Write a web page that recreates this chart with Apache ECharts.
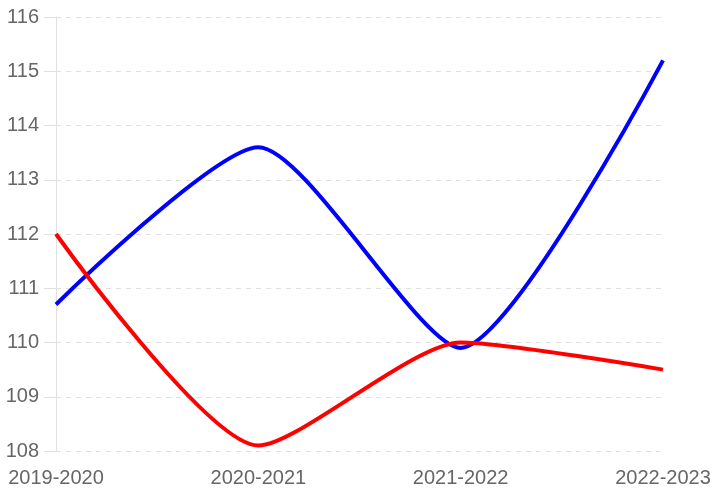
<!DOCTYPE html>
<html><head><meta charset="utf-8">
<script src="https://cdn.jsdelivr.net/npm/echarts@6/dist/echarts.min.js"></script>
<style>html,body{margin:0;padding:0;background:#fff}#c{width:716px;height:498px}</style>
</head><body><div id="c"></div>
<script>
const categories = ["2019-2020", "2020-2021", "2021-2022", "2022-2023"];
const blueValues = [110.7, 113.6, 109.9, 115.2];
const redValues = [112.0, 108.1, 110.0, 109.5];
const yMin = 108, yMax = 116, yStep = 1;

const chart = echarts.init(document.getElementById('c'));
const font = 'Arial, "Liberation Sans", sans-serif';
chart.setOption({
  animation: false,
  grid: {left: 56, right: 53, top: 17, bottom: 47},
  xAxis: {
    type: 'category', data: categories, boundaryGap: false,
    axisLine: {show: false},
    axisTick: {show: false},
    axisLabel: {color: '#666', fontSize: 20, fontFamily: font, margin: 17},
    splitLine: {show: false}
  },
  yAxis: {
    type: 'value', min: yMin, max: yMax, interval: yStep,
    axisLine: {show: true, lineStyle: {color: '#e0e0e0', width: 1}},
    axisTick: {show: true, length: 12, lineStyle: {color: '#e0e0e0'}},
    axisLabel: {color: '#666', fontSize: 20, fontFamily: font, margin: 17},
    splitLine: {show: true, lineStyle: {color: '#e0e0e0', type: [5, 5], width: 1}}
  },
  series: [
    {type: 'line', data: blueValues, smooth: 0.22, showSymbol: false,
     lineStyle: {color: '#0000ff', width: 4}, itemStyle: {color: '#0000ff'}},
    {type: 'line', data: redValues, smooth: 0.22, showSymbol: false,
     lineStyle: {color: '#ff0000', width: 4}, itemStyle: {color: '#ff0000'}}
  ]
});
</script></body></html>
